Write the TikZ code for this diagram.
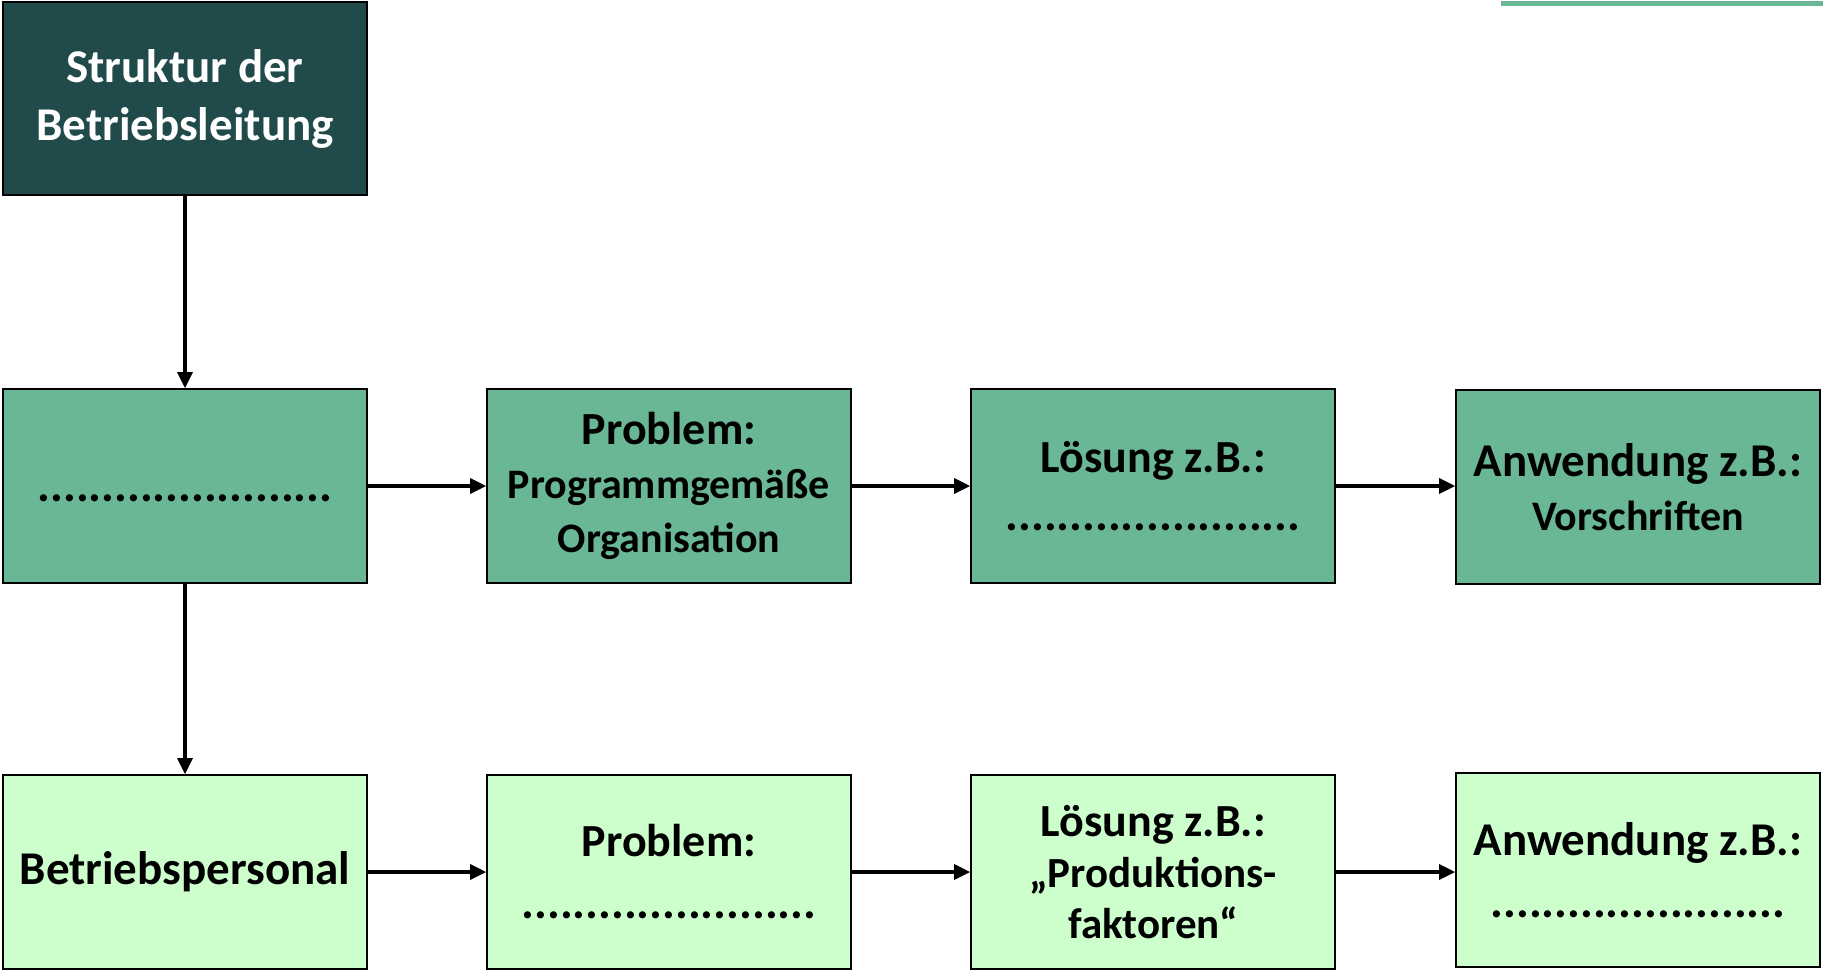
\documentclass[tikz,border=0pt]{standalone}
\usepackage{fontspec}
\setmainfont{Carlito}
\usepackage{tikz}
\usetikzlibrary{arrows.meta, positioning}

\definecolor{headteal}{HTML}{214A4B}
\definecolor{midgreen}{HTML}{69B795}
\definecolor{palegreen}{HTML}{CCFFCC}

\newcommand{\bigtxt}{\fontsize{46}{54}\selectfont}
\newcommand{\smalltxt}{\fontsize{42}{48}\selectfont}
\newcommand{\dotline}{{\fontsize{48}{54}\selectfont .......................}}

\tikzset{
    box/.style={draw=black, line width=1.6pt, minimum width=364pt, minimum height=194pt,
        align=center, inner sep=0pt, font=\bfseries\bigtxt},
    toprow/.style={box, fill=midgreen},
    botrow/.style={box, fill=palegreen},
    flow/.style={-{Triangle[length=16pt,width=15pt]}, line width=3.2pt}
}

\begin{document}
\begin{tikzpicture}[x=1pt, y=-1pt]
    \useasboundingbox (0,0) rectangle (1823,970);

    % Accent line top right
    \draw[midgreen, line width=4.5pt] (1501,3.5) -- (1823,3.5);

    % Head box
    \node[box, fill=headteal, text=white, minimum height=193pt,
        font=\bfseries\fontsize{47}{52}\selectfont] (head) at (185,98.5) {Struktur der\\[6pt]Betriebsleitung};

    % Upper row
    \node[toprow] (lead) at (185,486) {\rule{0pt}{32pt}\dotline};
    \node[toprow] (prob) at (669,486) {Problem:\\{\smalltxt Programmgemäße}\\{\smalltxt Organisation}};
    \node[toprow] (sol) at (1153,486) {Lösung z.B.:\\[4pt]\dotline};
    \node[toprow] (app) at (1638,487) {\fontsize{47}{54}\selectfont Anwendung z.B.:\\{\smalltxt Vorschriften}};

    % Lower row
    \node[botrow, font=\bfseries\fontsize{47}{54}\selectfont] (staff) at (185,872) {Betriebspersonal};
    \node[botrow] (probB) at (669,872) {Problem:\\[8pt]\dotline};
    \node[botrow] (solB) at (1153,872) {Lösung z.B.:\\[-3pt]{\fontsize{43}{52}\selectfont „Produktions-}\\[-3pt]{\fontsize{43}{52}\selectfont faktoren“}};
    \node[botrow] (appB) at (1638,870) {\fontsize{47}{54}\selectfont Anwendung z.B.:\\[8pt]\dotline};

    % Arrows
    \draw[flow] (head) -- (lead);
    \draw[flow] (lead) -- (staff);
    \draw[flow] (lead) -- (prob);
    \draw[flow] (prob) -- (sol);
    \draw[flow] (sol.east) -- (sol.east -| app.west);
    \draw[flow] (staff) -- (probB);
    \draw[flow] (probB) -- (solB);
    \draw[flow] (solB.east) -- (solB.east -| appB.west);
\end{tikzpicture}
\end{document}
